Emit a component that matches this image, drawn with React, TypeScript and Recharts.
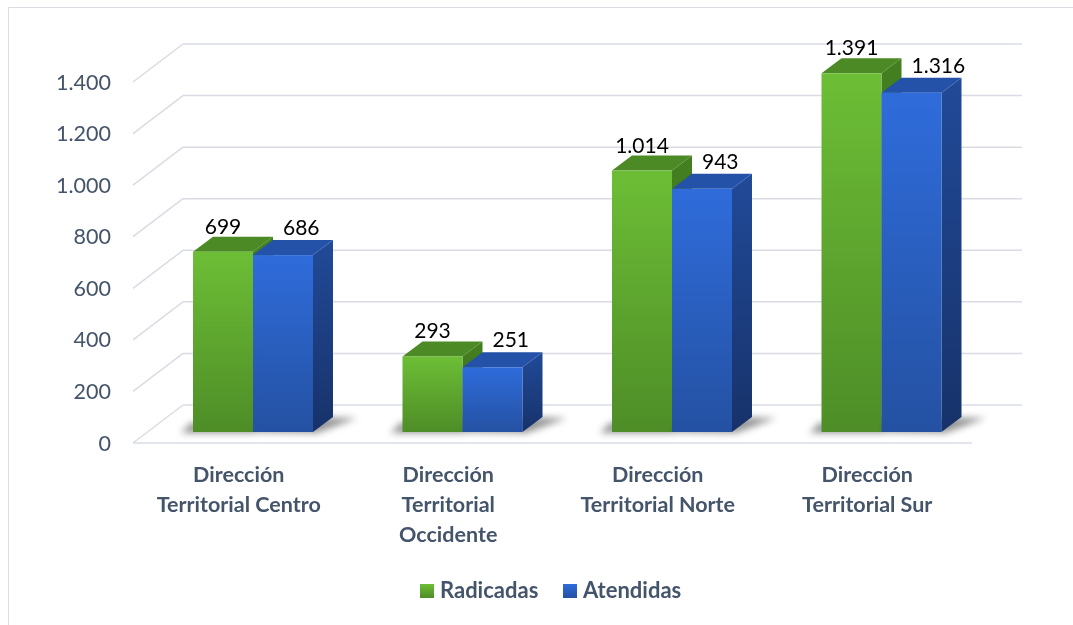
import React from 'react';
import { BarChart, Bar, XAxis, YAxis, CartesianGrid, Legend, LabelList } from 'recharts';

// ---------- data ----------
const categories = [
  'Dirección Territorial Centro',
  'Dirección Territorial Occidente',
  'Dirección Territorial Norte',
  'Dirección Territorial Sur',
];
const radicadas = [699, 293, 1014, 1391];
const atendidas = [686, 251, 943, 1316];
const yTicks = [0, 200, 400, 600, 800, 1000, 1200, 1400];
const seriesNames = ['Radicadas', 'Atendidas'];

const data = categories.map((name, i) => ({ name, radicadas: radicadas[i], atendidas: atendidas[i] }));

// ---------- layout / style ----------
const CHART_W = 1065;
const CHART_H = 600;
const M_TOP = 63;
const Y_AXIS_W = 140;
const M_RIGHT = 87;
const X_AXIS_H = 176;
const PLOT_BOTTOM = CHART_H - X_AXIS_H;

const FONT = 'Lato, "Open Sans", "DejaVu Sans", sans-serif';
const TEXT = '#44546A';
const GRID = '#D9DCE4';

// perspective offsets
const FRONT_DX = -15; // front plane relative to bar plane
const FRONT_DY = 11;
const BACK_DX = 35; // back wall relative to bar plane
const BACK_DY = -27;
const DEPTH_DX = 20; // bar depth
const DEPTH_DY = -15;

const GREEN = {
  frontTop: '#6DBE36',
  frontBottom: '#4E8D27',
  top: '#4B8A24',
  sideTop: '#447F20',
  sideBottom: '#3A6E1B',
};
const BLUE = {
  frontTop: '#2F6CDB',
  frontBottom: '#2451A2',
  top: '#2452A8',
  sideTop: '#214A98',
  sideBottom: '#17326A',
};

const fmt = (v: number) => String(v).replace(/\B(?=(\d{3})+(?!\d))/g, '.');

let measureCtx: CanvasRenderingContext2D | null = null;
const measure = (s: string, font: string) => {
  if (!measureCtx) {
    const c = document.createElement('canvas');
    measureCtx = c.getContext('2d');
  }
  if (!measureCtx) return s.length * 11;
  measureCtx.font = font;
  return measureCtx.measureText(s).width;
};

const CAT_FONT_SIZE = 21.5;
const wrap = (s: string, maxW: number) => {
  const words = s.split(' ');
  const lines: string[] = [];
  let cur = '';
  const f = `bold ${CAT_FONT_SIZE}px Lato`;
  words.forEach((w) => {
    const t = cur ? cur + ' ' + w : w;
    if (cur && measure(t, f) > maxW) {
      lines.push(cur);
      cur = w;
    } else cur = t;
  });
  if (cur) lines.push(cur);
  return lines;
};

// ---------- grid ----------
const renderGridLine = (p: any) => {
  const { x1, x2, y1 } = p;
  const y = y1;
  const isBottom = Math.abs(y - PLOT_BOTTOM) < 1;
  const fx = x1 + FRONT_DX;
  const fy = y + FRONT_DY;
  const bx = x1 + BACK_DX;
  const by = y + BACK_DY;
  return (
    <g key={p.key}>
      <line x1={fx} y1={fy} x2={bx} y2={by} stroke={GRID} strokeWidth={1.5} />
      <line x1={bx} y1={by} x2={x2 + BACK_DX + 1} y2={by} stroke={GRID} strokeWidth={1.5} />
      {isBottom && <line x1={fx} y1={fy} x2={x2 + FRONT_DX + 1} y2={fy} stroke={GRID} strokeWidth={1.5} />}
    </g>
  );
};

// ---------- bars ----------
const makeShape = (c: typeof GREEN, kind: 'g' | 'b') => (p: any) => {
  const { x, y, width: w, height: h, index } = p;
  if (w == null || h == null) return <g />;
  const base = y + h;
  const id = `${kind}${index}`;
  const shadow =
    kind === 'g'
      ? `${x - 12},${base + 1} ${x + w},${base + 1} ${x + w + DEPTH_DX},${base + DEPTH_DY} ${x - 2},${base + DEPTH_DY + 6}`
      : `${x},${base} ${x + w + 4},${base + 1} ${x + w + DEPTH_DX + 24},${base + DEPTH_DY + 1} ${x + DEPTH_DX},${base + DEPTH_DY}`;
  return (
    <g>
      <defs>
        <linearGradient id={`front-${id}`} x1="0" y1="0" x2="0" y2="1">
          <stop offset="0" stopColor={c.frontTop} />
          <stop offset="1" stopColor={c.frontBottom} />
        </linearGradient>
        <linearGradient id={`side-${id}`} x1="0" y1="0" x2="0" y2="1">
          <stop offset="0" stopColor={c.sideTop} />
          <stop offset="1" stopColor={c.sideBottom} />
        </linearGradient>
        <filter id={`shadow-${id}`} x="-50%" y="-50%" width="200%" height="200%">
          <feGaussianBlur stdDeviation="3.5" />
        </filter>
      </defs>
      <polygon points={shadow} fill="rgba(0,0,0,0.42)" filter={`url(#shadow-${id})`} />
      <polygon
        points={`${x + w},${y} ${x + w + DEPTH_DX},${y + DEPTH_DY} ${x + w + DEPTH_DX},${base + DEPTH_DY} ${x + w},${base}`}
        fill={`url(#side-${id})`}
      />
      <polygon
        points={`${x},${y} ${x + DEPTH_DX},${y + DEPTH_DY} ${x + w + DEPTH_DX},${y + DEPTH_DY} ${x + w},${y}`}
        fill={c.top}
      />
      <rect x={x} y={y} width={w} height={h} fill={`url(#front-${id})`} />
    </g>
  );
};

const greenShape = makeShape(GREEN, 'g');
const blueShape = makeShape(BLUE, 'b');

const LABEL_SIZE = 21;
const greenLabel = (p: any) => {
  const { x, y, width: w, value } = p;
  return (
    <text x={x + w / 2} y={y - 18} textAnchor="middle" fontFamily={FONT} fontSize={LABEL_SIZE} fill="#000">
      {fmt(Number(value))}
    </text>
  );
};
const blueLabel = (p: any) => {
  const { x, y, value } = p;
  return (
    <text x={x + 30} y={y - 20} textAnchor="start" fontFamily={FONT} fontSize={LABEL_SIZE} fill="#000">
      {fmt(Number(value))}
    </text>
  );
};

// ---------- axes ticks ----------
const YTick = (p: any) => {
  const { x, y, payload } = p;
  return (
    <text x={x - 37} y={y + FRONT_DY + 7.5} textAnchor="end" fontFamily={FONT} fontSize={21.5} fill={TEXT}>
      {fmt(Number(payload.value))}
    </text>
  );
};

const XTick = (p: any) => {
  const { x, y, payload } = p;
  const lines = wrap(String(payload.value), 178);
  return (
    <g>
      {lines.map((l, i) => (
        <text
          key={i}
          x={x + FRONT_DX + 1}
          y={y + 50 + i * 30}
          textAnchor="middle"
          fontFamily={FONT}
          fontWeight={700}
          fontSize={CAT_FONT_SIZE}
          fill={TEXT}
        >
          {l}
        </text>
      ))}
    </g>
  );
};

const renderLegend = () => (
  <svg width={320} height={36} style={{ display: 'block', overflow: 'visible' }}>
    <defs>
      <linearGradient id="lg-g" x1="0" y1="0" x2="0" y2="1">
        <stop offset="0" stopColor={GREEN.frontTop} />
        <stop offset="1" stopColor={GREEN.frontBottom} />
      </linearGradient>
      <linearGradient id="lg-b" x1="0" y1="0" x2="0" y2="1">
        <stop offset="0" stopColor={BLUE.frontTop} />
        <stop offset="1" stopColor={BLUE.frontBottom} />
      </linearGradient>
    </defs>
    <rect x={0} y={10} width={14} height={14} fill="url(#lg-g)" />
    <text x={20} y={24} fontFamily={FONT} fontWeight={700} fontSize={22} fill={TEXT}>
      {seriesNames[0]}
    </text>
    <rect x={143} y={10} width={14} height={14} fill="url(#lg-b)" />
    <text x={163} y={24} fontFamily={FONT} fontWeight={700} fontSize={22} fill={TEXT}>
      {seriesNames[1]}
    </text>
  </svg>
);

export default function App() {
  return (
    <div style={{ position: 'relative', width: CHART_W, height: CHART_H }}>
      <div
        style={{
          position: 'fixed',
          left: 7.5,
          top: 6.5,
          right: -10,
          bottom: -10,
          borderTop: '1.5px solid #D9DEE4',
          borderLeft: '1.5px solid #D9DEE4',
          pointerEvents: 'none',
        }}
      />
      <BarChart
        width={CHART_W}
        height={CHART_H}
        data={data}
        margin={{ top: M_TOP, right: M_RIGHT, bottom: 0, left: 0 }}
        barSize={60}
        barGap={0}
      >
        <CartesianGrid vertical={false} horizontal={renderGridLine} />
        <XAxis
          dataKey="name"
          height={X_AXIS_H}
          tickLine={false}
          axisLine={false}
          tickSize={0}
          tickMargin={0}
          interval={0}
          tick={<XTick />}
        />
        <YAxis
          width={Y_AXIS_W}
          domain={[0, 1400]}
          ticks={yTicks}
          tickLine={false}
          axisLine={false}
          tickSize={0}
          tickMargin={0}
          tick={<YTick />}
        />
        <Legend
          verticalAlign="middle"
          align="center"
          content={renderLegend}
          wrapperStyle={{ left: 412, top: 566, width: 320, height: 36 }}
        />
        <Bar dataKey="radicadas" name={seriesNames[0]} shape={greenShape} isAnimationActive={false}>
          <LabelList dataKey="radicadas" content={greenLabel} />
        </Bar>
        <Bar dataKey="atendidas" name={seriesNames[1]} shape={blueShape} isAnimationActive={false}>
          <LabelList dataKey="atendidas" content={blueLabel} />
        </Bar>
      </BarChart>
    </div>
  );
}
